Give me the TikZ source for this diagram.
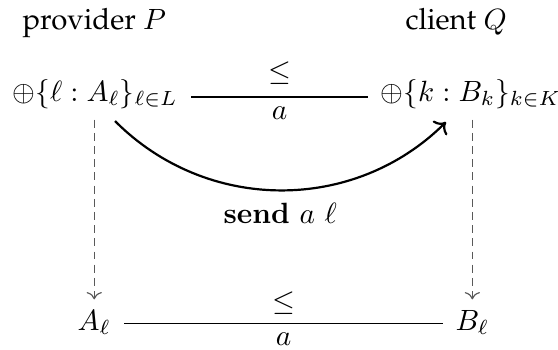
\documentclass[tikz,border=0pt]{standalone}
\usepackage[T1,TU]{fontenc}
\usetikzlibrary{arrows.meta}
\newcommand{\palfont}{\fontencoding{T1}\fontfamily{ppl}\selectfont}
\begin{document}
\begin{tikzpicture}[x=0.3413pt,y=0.3413pt,
  lbl/.style={inner sep=0pt, anchor=base west},
  obj/.style={inner sep=0pt, anchor=base west},
  rel/.style={line width=0.45pt},
  dasharrow/.style={dash pattern=on 2.7pt off 1.8pt, draw=black!65, ->, line width=0.4pt},
  sendarrow/.style={line width=0.75pt, ->}]
\useasboundingbox (0,0) rectangle (558,-349);
% headers
\node[lbl] (prov) at (22,-29) {\palfont provider $P$};
\node[lbl] (cli) at (405,-29) {\palfont client $Q$};
% objects
\node[obj] (L) at (12,-101.5) {$\oplus\{\ell : A_\ell\}_{\ell\in L}$};
\node[obj] (R) at (380,-101.5) {$\oplus\{k : B_k\}_{k\in K}$};
\node[obj] (A) at (77,-330.5) {$A_\ell$};
\node[obj] (B) at (455,-330.5) {$B_\ell$};
% top relation
\draw[rel] ([xshift=4.4pt,yshift=1.5pt]L.base east) -- ([xshift=-4pt,yshift=1.5pt]R.base west)
  node[midway,above,inner sep=4pt] {$\leq$}
  node[midway,below,inner sep=3pt] {$a$};
% bottom relation
\draw[rel] ([xshift=4.4pt,yshift=2.3pt]A.base east) -- ([xshift=-4.1pt,yshift=2.3pt]B.base west)
  node[midway,above,inner sep=3pt] {$\leq$}
  node[midway,below,inner sep=3pt] {$a$};
% dashed arrows
\draw[dasharrow] ([yshift=-3.5pt]A |- L.south) -- ([yshift=3.6pt]A.north);
\draw[dasharrow] ([yshift=-3.5pt]B |- R.south) -- ([yshift=3.6pt]B.north);
% send arrow
\coordinate (cs) at (115,-121);
\coordinate (ct) at (446,-122);
\draw[sendarrow] (cs) to[bend right=45] node[midway,below,inner sep=4pt] {$\mathbf{send}\ a\ \ell$} (ct);
\end{tikzpicture}
\end{document}
